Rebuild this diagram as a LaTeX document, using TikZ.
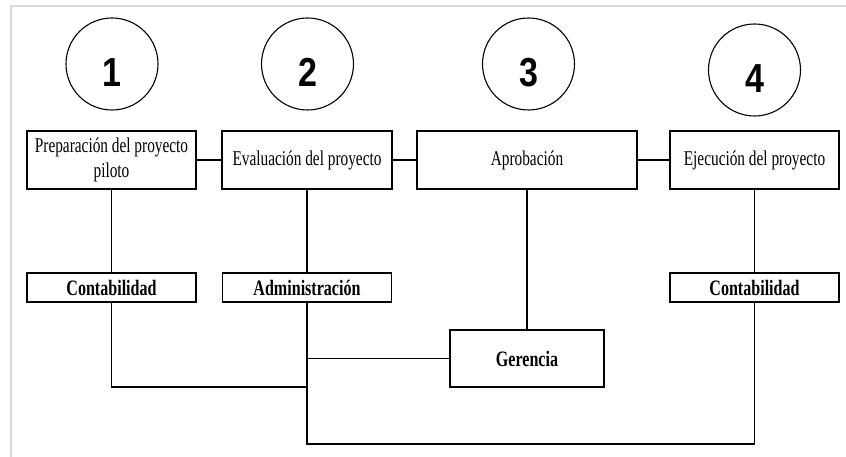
\documentclass[tikz,border=0pt]{standalone}
\usepackage{fontspec}
\setmainfont{Liberation Serif}
\newfontfamily\digitfont{Liberation Sans}
\usetikzlibrary{positioning}
\newcommand{\narrowtext}[1]{\scalebox{0.73}[1]{#1}}
\newcommand{\stepnum}[1]{\raisebox{-23pt}[0pt][0pt]{\scalebox{0.84}[1]{\digitfont\bfseries\fontsize{40.5}{44}\selectfont #1}}}

\begin{document}
\begin{tikzpicture}[x=1pt,y=-1pt,line width=1.1pt,
	stepcirc/.style={draw,circle,minimum size=92pt,inner sep=0pt},
	taskbox/.style={draw,minimum height=58pt,inner sep=0pt,
		font=\fontsize{21}{25}\selectfont},
	areabox/.style={draw,minimum width=169pt,minimum height=29pt,inner sep=0pt,
		font=\bfseries\fontsize{22}{26}\selectfont}]
	\useasboundingbox (0,0) rectangle (846,457);
	\draw[line width=2pt,black!15] (11,457)--(11,6)--(846,6);
	\node[stepcirc] (c1) at (112,64) {\stepnum{1}};
	\node[stepcirc] (c2) at (307.5,64) {\stepnum{2}};
	\node[stepcirc] (c3) at (528.5,64) {\stepnum{3}};
	\node[stepcirc] (c4) at (754.5,70) {\stepnum{4}};
	\node[taskbox,minimum width=169pt] (prep) at (111.5,160)
		{\narrowtext{\begin{tabular}{@{}c@{}}Preparación del proyecto\\piloto\end{tabular}}};
	\node[taskbox,minimum width=170pt] (eval) at (307,160) {\narrowtext{Evaluación del proyecto}};
	\node[taskbox,minimum width=220pt] (aprob) at (527,160) {\narrowtext{Aprobación}};
	\node[taskbox,minimum width=169pt] (ejec) at (754.5,160) {\narrowtext{Ejecución del proyecto}};
	\node[areabox] (cont1) at (111.5,287.5) {\narrowtext{Contabilidad}};
	\node[areabox] (admin) at (307,287.5) {\narrowtext{Administración}};
	\node[areabox] (cont2) at (754.5,287.5) {\narrowtext{Contabilidad}};
	\node[draw,minimum width=154pt,minimum height=57pt,inner sep=0pt,
		font=\bfseries\fontsize{22}{26}\selectfont] (ger) at (527,358.5) {\narrowtext{Gerencia}};
	\coordinate (j1) at (307,358.5);
	\coordinate (j2) at (307,387);
	\coordinate (j3) at (307,444);
	\draw (prep)--(eval)--(aprob)--(ejec);
	\draw (prep)--(cont1);
	\draw (eval)--(admin);
	\draw (aprob)--(ger);
	\draw (ejec)--(cont2);
	\draw (admin)--(j3)--(cont2 |- j3)--(cont2);
	\draw (j1)--(ger);
	\draw (cont1)--(cont1 |- j2)--(j2);
\end{tikzpicture}
\end{document}
